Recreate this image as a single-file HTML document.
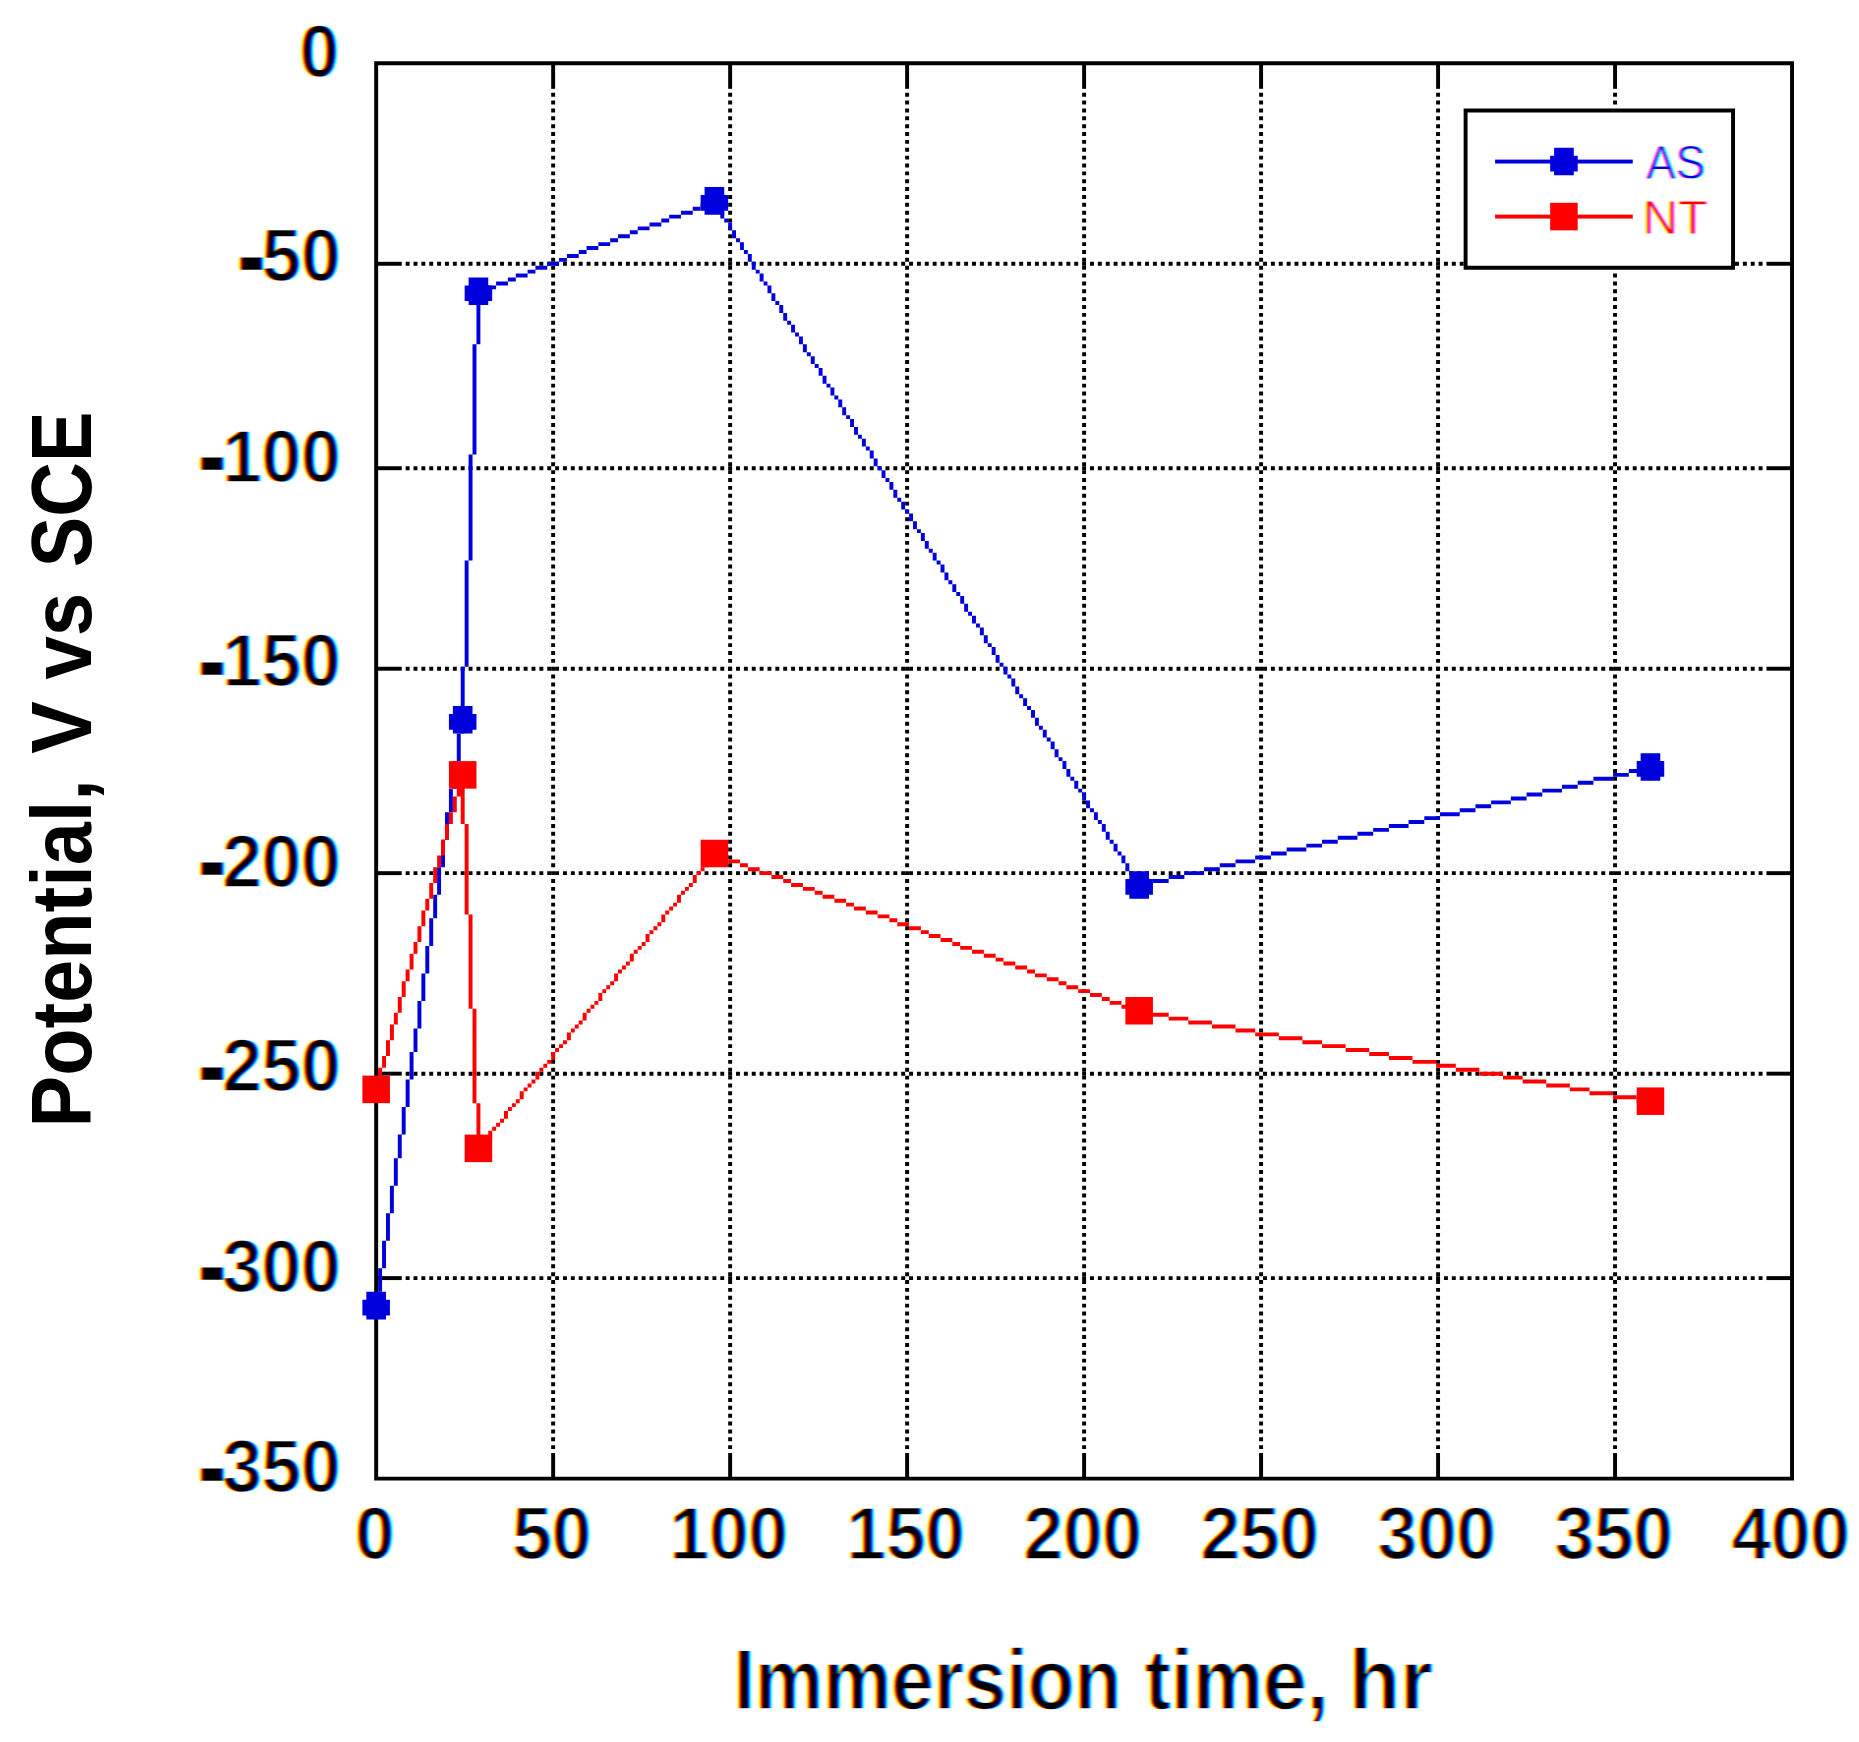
<!DOCTYPE html>
<html lang="en">
<head>
<meta charset="utf-8">
<title>Potential vs immersion time</title>
<style>
html,body{margin:0;padding:0;background:#fff;}
body{width:1859px;height:1742px;overflow:hidden;}
svg{display:block;}
text{font-family:"Liberation Sans",Arial,Helvetica,sans-serif;}
.t{font-weight:bold;font-size:70.78px;fill:#000;stroke:#fff;stroke-width:1.4px;}
.a{font-weight:bold;font-size:85.5px;fill:#000;}
.l{font-size:47.18px;stroke:#fff;stroke-width:0.8px;}
#xt{stroke:#fff;stroke-width:1.6px;}
.h{stroke:#000;stroke-width:3.4px;}
</style>
</head>
<body>
<svg width="1859" height="1742" viewBox="0 0 1859 1742">
<defs>
<filter id="ct" x="-5%" y="-10%" width="110%" height="120%" color-interpolation-filters="sRGB">
<feColorMatrix in="SourceGraphic" type="matrix" values="1 0 0 0 0  0 0 0 0 1  0 0 0 0 1  0 0 0 1 0" result="r0"/>
<feOffset in="r0" dx="1.6" dy="0" result="r1"/>
<feGaussianBlur in="r1" stdDeviation="0.8 0" result="r2"/>
<feColorMatrix in="SourceGraphic" type="matrix" values="0 0 0 0 1  0 1 0 0 0  0 0 0 0 1  0 0 0 1 0" result="g0"/>
<feGaussianBlur in="g0" stdDeviation="0.8 0" result="g2"/>
<feColorMatrix in="SourceGraphic" type="matrix" values="0 0 0 0 1  0 0 0 0 1  0 0 1 0 0  0 0 0 1 0" result="b0"/>
<feOffset in="b0" dx="-1.6" dy="0" result="b1"/>
<feGaussianBlur in="b1" stdDeviation="0.8 0" result="b2"/>
<feBlend in="r2" in2="g2" mode="multiply" result="rg"/>
<feBlend in="rg" in2="b2" mode="multiply"/>
</filter>
</defs>
<rect x="0" y="0" width="1859" height="1742" fill="#fff"/>
<g stroke="#000" stroke-width="3.93" fill="none"><line x1="553.15" y1="92.75" x2="553.15" y2="1449.12" stroke-dasharray="3.9315 3.9315"/><line x1="730.14" y1="92.75" x2="730.14" y2="1449.12" stroke-dasharray="3.9315 3.9315"/><line x1="907.12" y1="92.75" x2="907.12" y2="1449.12" stroke-dasharray="3.9315 3.9315"/><line x1="1084.11" y1="92.75" x2="1084.11" y2="1449.12" stroke-dasharray="3.9315 3.9315"/><line x1="1261.09" y1="92.75" x2="1261.09" y2="1449.12" stroke-dasharray="3.9315 3.9315"/><line x1="1438.08" y1="92.75" x2="1438.08" y2="1449.12" stroke-dasharray="3.9315 3.9315"/><line x1="1615.06" y1="92.75" x2="1615.06" y2="104.55" stroke-dasharray="3.9315 3.9315"/><line x1="1615.06" y1="273.6" x2="1615.06" y2="1449.12" stroke-dasharray="3.9315 3.9315"/><line x1="405.66" y1="263.77" x2="1463.64" y2="263.77" stroke-dasharray="3.9330 3.9330"/><line x1="1735.02" y1="263.77" x2="1762.55" y2="263.77" stroke-dasharray="3.9330 3.9330"/><line x1="405.66" y1="468.21" x2="1762.55" y2="468.21" stroke-dasharray="3.9330 3.9330"/><line x1="405.66" y1="668.72" x2="1762.55" y2="668.72" stroke-dasharray="3.9330 3.9330"/><line x1="405.66" y1="873.15" x2="1762.55" y2="873.15" stroke-dasharray="3.9330 3.9330"/><line x1="405.66" y1="1073.66" x2="1762.55" y2="1073.66" stroke-dasharray="3.9330 3.9330"/><line x1="405.66" y1="1278.1" x2="1762.55" y2="1278.1" stroke-dasharray="3.9330 3.9330"/></g>
<g fill="#000"><path fill-rule="evenodd" d="M374.2 61.3H1794.01V1480.57H374.2ZM378.13 65.23H1790.08V1476.64H378.13Z"/><rect x="551.18" y="63.23" width="3.93" height="25.59"/><rect x="551.18" y="1453.05" width="3.93" height="25.59"/><rect x="728.17" y="63.23" width="3.93" height="25.59"/><rect x="728.17" y="1453.05" width="3.93" height="25.59"/><rect x="905.15" y="63.23" width="3.93" height="25.59"/><rect x="905.15" y="1453.05" width="3.93" height="25.59"/><rect x="1082.14" y="63.23" width="3.93" height="25.59"/><rect x="1082.14" y="1453.05" width="3.93" height="25.59"/><rect x="1259.12" y="63.23" width="3.93" height="25.59"/><rect x="1259.12" y="1453.05" width="3.93" height="25.59"/><rect x="1436.11" y="63.23" width="3.93" height="25.59"/><rect x="1436.11" y="1453.05" width="3.93" height="25.59"/><rect x="1613.1" y="63.23" width="3.93" height="25.59"/><rect x="1613.1" y="1453.05" width="3.93" height="25.59"/><rect x="376.13" y="261.81" width="25.6" height="3.93"/><rect x="1766.48" y="261.81" width="25.6" height="3.93"/><rect x="376.13" y="466.24" width="25.6" height="3.93"/><rect x="1766.48" y="466.24" width="25.6" height="3.93"/><rect x="376.13" y="666.75" width="25.6" height="3.93"/><rect x="1766.48" y="666.75" width="25.6" height="3.93"/><rect x="376.13" y="871.19" width="25.6" height="3.93"/><rect x="1766.48" y="871.19" width="25.6" height="3.93"/><rect x="376.13" y="1071.7" width="25.6" height="3.93"/><rect x="1766.48" y="1071.7" width="25.6" height="3.93"/><rect x="376.13" y="1276.13" width="25.6" height="3.93"/><rect x="1766.48" y="1276.13" width="25.6" height="3.93"/></g>
<g fill="#0000dc"><path d="M712.44 198.9H716.37V206.77H712.44ZM700.64 202.83H712.44V206.77H700.64ZM692.77 206.77H700.64V210.7H692.77ZM716.37 206.77H720.3V210.7H716.37ZM680.97 210.7H692.77V214.63H680.97ZM720.3 210.7H724.24V218.56H720.3ZM669.17 214.63H680.97V218.56H669.17ZM661.31 218.56H669.17V222.49H661.31ZM724.24 218.56H728.17V222.49H724.24ZM649.51 222.49H661.31V226.42H649.51ZM728.17 222.49H732.1V230.35H728.17ZM637.71 226.42H649.51V230.35H637.71ZM629.85 230.35H637.71V234.29H629.85ZM732.1 230.35H736.04V238.22H732.1ZM618.05 234.29H629.85V238.22H618.05ZM610.18 238.22H618.05V242.15H610.18ZM736.04 238.22H739.97V242.15H736.04ZM598.38 242.15H610.18V246.08H598.38ZM739.97 242.15H743.9V250.01H739.97ZM586.58 246.08H598.38V250.01H586.58ZM578.72 250.01H586.58V253.94H578.72ZM743.9 250.01H747.84V253.94H743.9ZM566.92 253.94H578.72V257.88H566.92ZM747.84 253.94H751.77V261.81H747.84ZM559.05 257.88H566.92V261.81H559.05ZM547.25 261.81H559.05V265.74H547.25ZM751.77 261.81H755.7V269.67H751.77ZM535.45 265.74H547.25V269.67H535.45ZM527.59 269.67H535.45V273.6H527.59ZM755.7 269.67H759.63V273.6H755.7ZM515.79 273.6H527.59V277.53H515.79ZM759.63 273.6H763.57V281.46H759.63ZM507.92 277.53H515.79V281.46H507.92ZM496.12 281.46H507.92V285.4H496.12ZM763.57 281.46H767.5V285.4H763.57ZM484.32 285.4H496.12V289.33H484.32ZM767.5 285.4H771.43V293.26H767.5ZM476.46 289.33H484.32V293.26H476.46ZM476.46 293.26H480.39V344.37H476.46ZM771.43 293.26H775.37V301.12H771.43ZM775.37 301.12H779.3V305.05H775.37ZM779.3 305.05H783.23V312.92H779.3ZM783.23 312.92H787.16V320.78H783.23ZM787.16 320.78H791.1V324.71H787.16ZM791.1 324.71H795.03V332.57H791.1ZM795.03 332.57H798.96V336.51H795.03ZM798.96 336.51H802.9V344.37H798.96ZM472.52 344.37H476.46V454.45H472.52ZM802.9 344.37H806.83V352.23H802.9ZM806.83 352.23H810.76V356.16H806.83ZM810.76 356.16H814.7V364.03H810.76ZM814.7 364.03H818.63V367.96H814.7ZM818.63 367.96H822.56V375.82H818.63ZM822.56 375.82H826.49V383.68H822.56ZM826.49 383.68H830.43V387.61H826.49ZM830.43 387.61H834.36V395.48H830.43ZM834.36 395.48H838.29V399.41H834.36ZM838.29 399.41H842.23V407.27H838.29ZM842.23 407.27H846.16V415.14H842.23ZM846.16 415.14H850.09V419.07H846.16ZM850.09 419.07H854.03V426.93H850.09ZM854.03 426.93H857.96V434.79H854.03ZM857.96 434.79H861.89V438.72H857.96ZM861.89 438.72H865.83V446.59H861.89ZM865.83 446.59H869.76V450.52H865.83ZM869.76 450.52H873.69V458.38H869.76ZM468.59 454.45H472.52V560.6H468.59ZM873.69 458.38H877.62V466.24H873.69ZM877.62 466.24H881.56V470.18H877.62ZM881.56 470.18H885.49V478.04H881.56ZM885.49 478.04H889.42V481.97H885.49ZM889.42 481.97H893.36V489.83H889.42ZM893.36 489.83H897.29V497.7H893.36ZM897.29 497.7H901.22V501.63H897.29ZM901.22 501.63H905.15V509.49H901.22ZM905.15 509.49H909.09V513.42H905.15ZM909.09 513.42H913.02V521.29H909.09ZM913.02 521.29H916.95V529.15H913.02ZM916.95 529.15H920.89V533.08H916.95ZM920.89 533.08H924.82V540.94H920.89ZM924.82 540.94H928.75V548.81H924.82ZM928.75 548.81H932.69V552.74H928.75ZM932.69 552.74H936.62V560.6H932.69ZM464.66 560.6H468.59V666.75H464.66ZM936.62 560.6H940.55V564.53H936.62ZM940.55 564.53H944.48V572.39H940.55ZM944.48 572.39H948.42V580.26H944.48ZM948.42 580.26H952.35V584.19H948.42ZM952.35 584.19H956.28V592.05H952.35ZM956.28 592.05H960.22V595.98H956.28ZM960.22 595.98H964.15V603.85H960.22ZM964.15 603.85H968.08V611.71H964.15ZM968.08 611.71H972.02V615.64H968.08ZM972.02 615.64H975.95V623.5H972.02ZM975.95 623.5H979.88V627.44H975.95ZM979.88 627.44H983.82V635.3H979.88ZM983.82 635.3H987.75V643.16H983.82ZM987.75 643.16H991.68V647.09H987.75ZM991.68 647.09H995.61V654.96H991.68ZM995.61 654.96H999.55V662.82H995.61ZM999.55 662.82H1003.48V666.75H999.55ZM460.73 666.75H464.66V733.59H460.73ZM1003.48 666.75H1007.41V674.61H1003.48ZM1007.41 674.61H1011.35V678.55H1007.41ZM1011.35 678.55H1015.28V686.41H1011.35ZM1015.28 686.41H1019.21V694.27H1015.28ZM1019.21 694.27H1023.14V698.2H1019.21ZM1023.14 698.2H1027.08V706.07H1023.14ZM1027.08 706.07H1031.01V710H1027.08ZM1031.01 710H1034.94V717.86H1031.01ZM1034.94 717.86H1038.88V725.72H1034.94ZM1038.88 725.72H1042.81V729.65H1038.88ZM1042.81 729.65H1046.74V737.52H1042.81ZM456.79 733.59H460.73V761.11H456.79ZM1046.74 737.52H1050.68V741.45H1046.74ZM1050.68 741.45H1054.61V749.31H1050.68ZM1054.61 749.31H1058.54V757.18H1054.61ZM1058.54 757.18H1062.47V761.11H1058.54ZM452.86 761.11H456.79V788.63H452.86ZM1062.47 761.11H1066.41V768.97H1062.47ZM1644.56 765.04H1652.42V768.97H1644.56ZM1066.41 768.97H1070.34V776.83H1066.41ZM1628.83 768.97H1644.56V772.9H1628.83ZM1613.1 772.9H1628.83V776.83H1613.1ZM1070.34 776.83H1074.27V780.76H1070.34ZM1593.43 776.83H1613.1V780.76H1593.43ZM1074.27 780.76H1078.21V788.63H1074.27ZM1577.7 780.76H1593.43V784.7H1577.7ZM1561.97 784.7H1577.7V788.63H1561.97ZM448.93 788.63H452.86V812.22H448.93ZM1078.21 788.63H1082.14V792.56H1078.21ZM1542.3 788.63H1561.97V792.56H1542.3ZM1082.14 792.56H1086.07V800.42H1082.14ZM1526.57 792.56H1542.3V796.49H1526.57ZM1510.84 796.49H1526.57V800.42H1510.84ZM1086.07 800.42H1090.01V808.28H1086.07ZM1491.17 800.42H1510.84V804.35H1491.17ZM1475.44 804.35H1491.17V808.28H1475.44ZM1090.01 808.28H1093.94V812.22H1090.01ZM1459.71 808.28H1475.44V812.22H1459.71ZM444.99 812.22H448.93V839.74H444.99ZM1093.94 812.22H1097.87V820.08H1093.94ZM1440.04 812.22H1459.71V816.15H1440.04ZM1424.31 816.15H1440.04V820.08H1424.31ZM1097.87 820.08H1101.81V824.01H1097.87ZM1408.58 820.08H1424.31V824.01H1408.58ZM1101.81 824.01H1105.74V831.87H1101.81ZM1388.91 824.01H1408.58V827.94H1388.91ZM1373.18 827.94H1388.91V831.87H1373.18ZM1105.74 831.87H1109.67V839.74H1105.74ZM1357.45 831.87H1373.18V835.81H1357.45ZM1337.78 835.81H1357.45V839.74H1337.78ZM441.06 839.74H444.99V867.26H441.06ZM1109.67 839.74H1113.6V843.67H1109.67ZM1322.05 839.74H1337.78V843.67H1322.05ZM1113.6 843.67H1117.54V851.53H1113.6ZM1306.32 843.67H1322.05V847.6H1306.32ZM1286.66 847.6H1306.32V851.53H1286.66ZM1117.54 851.53H1121.47V855.46H1117.54ZM1270.92 851.53H1286.66V855.46H1270.92ZM1121.47 855.46H1125.4V863.33H1121.47ZM1255.19 855.46H1270.92V859.39H1255.19ZM1235.53 859.39H1255.19V863.33H1235.53ZM1125.4 863.33H1129.34V871.19H1125.4ZM1219.79 863.33H1235.53V867.26H1219.79ZM437.13 867.26H441.06V894.78H437.13ZM1204.06 867.26H1219.79V871.19H1204.06ZM1129.34 871.19H1133.27V875.12H1129.34ZM1184.4 871.19H1204.06V875.12H1184.4ZM1133.27 875.12H1137.2V882.98H1133.27ZM1168.67 875.12H1184.4V879.05H1168.67ZM1152.93 879.05H1168.67V882.98H1152.93ZM1137.2 882.98H1152.93V886.91H1137.2ZM433.19 894.78H437.13V918.37H433.19ZM429.26 918.37H433.19V945.89H429.26ZM425.33 945.89H429.26V973.41H425.33ZM421.4 973.41H425.33V1000.93H421.4ZM417.46 1000.93H421.4V1028.45H417.46ZM413.53 1028.45H417.46V1052.04H413.53ZM409.6 1052.04H413.53V1079.56H409.6ZM405.66 1079.56H409.6V1107.08H405.66ZM401.73 1107.08H405.66V1134.6H401.73ZM397.8 1134.6H401.73V1158.19H397.8ZM393.87 1158.19H397.8V1185.71H393.87ZM389.93 1185.71H393.87V1213.23H389.93ZM386 1213.23H389.93V1240.75H386ZM382.07 1240.75H386V1268.27H382.07ZM378.13 1268.27H382.07V1291.86H378.13ZM374.2 1291.86H378.13V1307.59H374.2Z"/><path d="M366.33 1291.86L386 1291.86L386 1299.72L389.93 1299.72L389.93 1315.45L386 1315.45L386 1319.38L366.33 1319.38L366.33 1315.45L362.4 1315.45L362.4 1299.72L366.33 1299.72Z"/><path d="M452.86 706.07L472.52 706.07L472.52 713.93L476.46 713.93L476.46 729.65L472.52 729.65L472.52 733.59L452.86 733.59L452.86 729.65L448.93 729.65L448.93 713.93L452.86 713.93Z"/><path d="M468.59 277.53L488.26 277.53L488.26 285.4L492.19 285.4L492.19 301.12L488.26 301.12L488.26 305.05L468.59 305.05L468.59 301.12L464.66 301.12L464.66 285.4L468.59 285.4Z"/><path d="M704.57 187.11L724.24 187.11L724.24 194.97L728.17 194.97L728.17 210.7L724.24 210.7L724.24 214.63L704.57 214.63L704.57 210.7L700.64 210.7L700.64 194.97L704.57 194.97Z"/><path d="M1129.34 871.19L1149 871.19L1149 879.05L1152.93 879.05L1152.93 894.78L1149 894.78L1149 898.71L1129.34 898.71L1129.34 894.78L1125.4 894.78L1125.4 879.05L1129.34 879.05Z"/><path d="M1640.63 753.24L1660.29 753.24L1660.29 761.11L1664.22 761.11L1664.22 776.83L1660.29 776.83L1660.29 780.76L1640.63 780.76L1640.63 776.83L1636.69 776.83L1636.69 761.11L1640.63 761.11Z"/></g>
<g fill="#ff0000"><path d="M460.73 772.9H464.66V824.01H460.73ZM456.79 784.7H460.73V796.49H456.79ZM452.86 796.49H456.79V812.22H452.86ZM448.93 812.22H452.86V824.01H448.93ZM444.99 824.01H448.93V839.74H444.99ZM464.66 824.01H468.59V914.44H464.66ZM441.06 839.74H444.99V855.46H441.06ZM712.44 851.53H716.37V855.46H712.44ZM437.13 855.46H441.06V867.26H437.13ZM708.5 855.46H712.44V863.33H708.5ZM716.37 855.46H728.17V859.39H716.37ZM728.17 859.39H739.97V863.33H728.17ZM704.57 863.33H708.5V867.26H704.57ZM739.97 863.33H747.84V867.26H739.97ZM433.19 867.26H437.13V882.98H433.19ZM700.64 867.26H704.57V871.19H700.64ZM747.84 867.26H759.63V871.19H747.84ZM696.71 871.19H700.64V875.12H696.71ZM759.63 871.19H771.43V875.12H759.63ZM692.77 875.12H696.71V882.98H692.77ZM771.43 875.12H783.23V879.05H771.43ZM783.23 879.05H791.1V882.98H783.23ZM429.26 882.98H433.19V898.71H429.26ZM688.84 882.98H692.77V886.91H688.84ZM791.1 882.98H802.9V886.91H791.1ZM684.91 886.91H688.84V890.85H684.91ZM802.9 886.91H814.7V890.85H802.9ZM680.97 890.85H684.91V894.78H680.97ZM814.7 890.85H822.56V894.78H814.7ZM677.04 894.78H680.97V902.64H677.04ZM822.56 894.78H834.36V898.71H822.56ZM425.33 898.71H429.26V910.5H425.33ZM834.36 898.71H846.16V902.64H834.36ZM673.11 902.64H677.04V906.57H673.11ZM846.16 902.64H854.03V906.57H846.16ZM669.17 906.57H673.11V910.5H669.17ZM854.03 906.57H865.83V910.5H854.03ZM421.4 910.5H425.33V926.23H421.4ZM665.24 910.5H669.17V914.44H665.24ZM865.83 910.5H877.62V914.44H865.83ZM468.59 914.44H472.52V1008.79H468.59ZM661.31 914.44H665.24V922.3H661.31ZM877.62 914.44H889.42V918.37H877.62ZM889.42 918.37H897.29V922.3H889.42ZM657.38 922.3H661.31V926.23H657.38ZM897.29 922.3H909.09V926.23H897.29ZM417.46 926.23H421.4V941.96H417.46ZM653.44 926.23H657.38V930.16H653.44ZM909.09 926.23H920.89V930.16H909.09ZM649.51 930.16H653.44V934.09H649.51ZM920.89 930.16H928.75V934.09H920.89ZM645.58 934.09H649.51V941.96H645.58ZM928.75 934.09H940.55V938.02H928.75ZM940.55 938.02H952.35V941.96H940.55ZM413.53 941.96H417.46V953.75H413.53ZM641.64 941.96H645.58V945.89H641.64ZM952.35 941.96H960.22V945.89H952.35ZM637.71 945.89H641.64V949.82H637.71ZM960.22 945.89H972.02V949.82H960.22ZM633.78 949.82H637.71V953.75H633.78ZM972.02 949.82H983.82V953.75H972.02ZM409.6 953.75H413.53V969.48H409.6ZM629.85 953.75H633.78V961.61H629.85ZM983.82 953.75H995.61V957.68H983.82ZM995.61 957.68H1003.48V961.61H995.61ZM625.91 961.61H629.85V965.54H625.91ZM1003.48 961.61H1015.28V965.54H1003.48ZM621.98 965.54H625.91V969.48H621.98ZM1015.28 965.54H1027.08V969.48H1015.28ZM405.66 969.48H409.6V981.27H405.66ZM618.05 969.48H621.98V973.41H618.05ZM1027.08 969.48H1034.94V973.41H1027.08ZM614.11 973.41H618.05V981.27H614.11ZM1034.94 973.41H1046.74V977.34H1034.94ZM1046.74 977.34H1058.54V981.27H1046.74ZM401.73 981.27H405.66V997H401.73ZM610.18 981.27H614.11V985.2H610.18ZM1058.54 981.27H1066.41V985.2H1058.54ZM606.25 985.2H610.18V989.13H606.25ZM1066.41 985.2H1078.21V989.13H1066.41ZM602.31 989.13H606.25V993.07H602.31ZM1078.21 989.13H1090.01V993.07H1078.21ZM598.38 993.07H602.31V1000.93H598.38ZM1090.01 993.07H1101.81V997H1090.01ZM397.8 997H401.73V1012.72H397.8ZM1101.81 997H1109.67V1000.93H1101.81ZM594.45 1000.93H598.38V1004.86H594.45ZM1109.67 1000.93H1121.47V1004.86H1109.67ZM590.51 1004.86H594.45V1008.79H590.51ZM1121.47 1004.86H1133.27V1008.79H1121.47ZM472.52 1008.79H476.46V1103.15H472.52ZM586.58 1008.79H590.51V1012.72H586.58ZM1133.27 1008.79H1145.07V1012.72H1133.27ZM393.87 1012.72H397.8V1024.52H393.87ZM582.65 1012.72H586.58V1020.59H582.65ZM1145.07 1012.72H1168.67V1016.65H1145.07ZM1168.67 1016.65H1188.33V1020.59H1168.67ZM578.72 1020.59H582.65V1024.52H578.72ZM1188.33 1020.59H1211.93V1024.52H1188.33ZM389.93 1024.52H393.87V1040.24H389.93ZM574.78 1024.52H578.72V1028.45H574.78ZM1211.93 1024.52H1235.53V1028.45H1211.93ZM570.85 1028.45H574.78V1032.38H570.85ZM1235.53 1028.45H1255.19V1032.38H1235.53ZM566.92 1032.38H570.85V1040.24H566.92ZM1255.19 1032.38H1278.79V1036.31H1255.19ZM1278.79 1036.31H1302.39V1040.24H1278.79ZM386 1040.24H389.93V1055.97H386ZM562.98 1040.24H566.92V1044.17H562.98ZM1302.39 1040.24H1322.05V1044.17H1302.39ZM559.05 1044.17H562.98V1048.11H559.05ZM1322.05 1044.17H1345.65V1048.11H1322.05ZM555.12 1048.11H559.05V1052.04H555.12ZM1345.65 1048.11H1369.25V1052.04H1345.65ZM551.18 1052.04H555.12V1059.9H551.18ZM1369.25 1052.04H1388.91V1055.97H1369.25ZM382.07 1055.97H386V1067.76H382.07ZM1388.91 1055.97H1412.51V1059.9H1388.91ZM547.25 1059.9H551.18V1063.83H547.25ZM1412.51 1059.9H1436.11V1063.83H1412.51ZM543.32 1063.83H547.25V1067.76H543.32ZM1436.11 1063.83H1455.78V1067.76H1436.11ZM378.13 1067.76H382.07V1083.49H378.13ZM539.39 1067.76H543.32V1071.7H539.39ZM1455.78 1067.76H1479.37V1071.7H1455.78ZM535.45 1071.7H539.39V1079.56H535.45ZM1479.37 1071.7H1502.97V1075.63H1479.37ZM1502.97 1075.63H1522.64V1079.56H1502.97ZM531.52 1079.56H535.45V1083.49H531.52ZM1522.64 1079.56H1546.23V1083.49H1522.64ZM374.2 1083.49H378.13V1091.35H374.2ZM527.59 1083.49H531.52V1087.42H527.59ZM1546.23 1083.49H1569.83V1087.42H1546.23ZM523.65 1087.42H527.59V1091.35H523.65ZM1569.83 1087.42H1589.5V1091.35H1569.83ZM519.72 1091.35H523.65V1099.22H519.72ZM1589.5 1091.35H1613.1V1095.28H1589.5ZM1613.1 1095.28H1636.69V1099.22H1613.1ZM515.79 1099.22H519.72V1103.15H515.79ZM1636.69 1099.22H1652.42V1103.15H1636.69ZM476.46 1103.15H480.39V1150.33H476.46ZM511.86 1103.15H515.79V1107.08H511.86ZM507.92 1107.08H511.86V1111.01H507.92ZM503.99 1111.01H507.92V1118.87H503.99ZM500.06 1118.87H503.99V1122.81H500.06ZM496.12 1122.81H500.06V1126.74H496.12ZM492.19 1126.74H496.12V1130.67H492.19ZM488.26 1130.67H492.19V1138.53H488.26ZM484.32 1138.53H488.26V1142.46H484.32ZM480.39 1142.46H484.32V1146.39H480.39Z"/><rect x="362.4" y="1075.63" width="27.53" height="27.52"/><rect x="448.93" y="761.11" width="27.53" height="27.52"/><rect x="464.66" y="1134.6" width="27.53" height="27.52"/><rect x="700.64" y="839.74" width="27.53" height="27.52"/><rect x="1125.4" y="997" width="27.53" height="27.52"/><rect x="1636.69" y="1087.42" width="27.53" height="27.52"/></g>
<rect x="1465.14" y="109.98" width="268.38" height="158.19" fill="#fff"/><g fill="#000"><path fill-rule="evenodd" d="M1463.64 108.48H1735.02V269.67H1463.64ZM1467.57 112.41H1731.09V265.74H1467.57Z"/></g><g fill="#0000dc"><rect x="1495.11" y="159.59" width="137.65" height="3.93"/><path d="M1554.1 147.79L1573.77 147.79L1573.77 155.66L1577.7 155.66L1577.7 171.38L1573.77 171.38L1573.77 175.31L1554.1 175.31L1554.1 171.38L1550.17 171.38L1550.17 155.66L1554.1 155.66Z"/></g><g fill="#ff0000"><rect x="1495.11" y="214.63" width="137.65" height="3.93"/><rect x="1550.17" y="202.83" width="27.53" height="27.52"/></g>
<text class="t" filter="url(#ct)" transform="translate(338.8 76.93) scale(1 1.035)" text-anchor="end">0</text><text class="t" filter="url(#ct)" transform="translate(338.8 281.36) scale(1 1.035)" text-anchor="end"><tspan class="h" dx="1.5" dy="1.3">-</tspan><tspan dx="-1.5" dy="-1.3">50</tspan></text><text class="t" filter="url(#ct)" transform="translate(338.8 481.87) scale(1 1.035)" text-anchor="end"><tspan class="h" dx="1.5" dy="1.3">-</tspan><tspan dx="-1.5" dy="-1.3">100</tspan></text><text class="t" filter="url(#ct)" transform="translate(338.8 686.31) scale(1 1.035)" text-anchor="end"><tspan class="h" dx="1.5" dy="1.3">-</tspan><tspan dx="-1.5" dy="-1.3">150</tspan></text><text class="t" filter="url(#ct)" transform="translate(338.8 886.82) scale(1 1.035)" text-anchor="end"><tspan class="h" dx="1.5" dy="1.3">-</tspan><tspan dx="-1.5" dy="-1.3">200</tspan></text><text class="t" filter="url(#ct)" transform="translate(338.8 1091.25) scale(1 1.035)" text-anchor="end"><tspan class="h" dx="1.5" dy="1.3">-</tspan><tspan dx="-1.5" dy="-1.3">250</tspan></text><text class="t" filter="url(#ct)" transform="translate(338.8 1291.76) scale(1 1.035)" text-anchor="end"><tspan class="h" dx="1.5" dy="1.3">-</tspan><tspan dx="-1.5" dy="-1.3">300</tspan></text><text class="t" filter="url(#ct)" transform="translate(338.8 1492.27) scale(1 1.035)" text-anchor="end"><tspan class="h" dx="1.5" dy="1.3">-</tspan><tspan dx="-1.5" dy="-1.3">350</tspan></text><text class="t" filter="url(#ct)" transform="translate(374.67 1558.7) scale(1 1.035)" text-anchor="middle">0</text><text class="t" filter="url(#ct)" transform="translate(551.65 1558.7) scale(1 1.035)" text-anchor="middle">50</text><text class="t" filter="url(#ct)" transform="translate(728.64 1558.7) scale(1 1.035)" text-anchor="middle">100</text><text class="t" filter="url(#ct)" transform="translate(905.62 1558.7) scale(1 1.035)" text-anchor="middle">150</text><text class="t" filter="url(#ct)" transform="translate(1082.61 1558.7) scale(1 1.035)" text-anchor="middle">200</text><text class="t" filter="url(#ct)" transform="translate(1259.59 1558.7) scale(1 1.035)" text-anchor="middle">250</text><text class="t" filter="url(#ct)" transform="translate(1436.58 1558.7) scale(1 1.035)" text-anchor="middle">300</text><text class="t" filter="url(#ct)" transform="translate(1613.56 1558.7) scale(1 1.035)" text-anchor="middle">350</text><text class="t" filter="url(#ct)" transform="translate(1790.55 1558.7) scale(1 1.035)" text-anchor="middle">400</text><text class="a" id="xt" filter="url(#ct)" y="1709.3"><tspan x="733.57" textLength="387.53" lengthAdjust="spacingAndGlyphs">Immersion</tspan> <tspan x="1144.6" textLength="184.02" lengthAdjust="spacingAndGlyphs">time,</tspan> <tspan x="1348.73" textLength="83.87" lengthAdjust="spacingAndGlyphs">hr</tspan></text><text class="a" id="yt" transform="translate(91.1 1122.8) rotate(-90)" y="0"><tspan x="-4.64" textLength="348.12" lengthAdjust="spacingAndGlyphs">Potential,</tspan> <tspan x="369.02" textLength="52.59" lengthAdjust="spacingAndGlyphs">V</tspan> <tspan x="443.2" textLength="86.96" lengthAdjust="spacingAndGlyphs">vs</tspan> <tspan x="555.61" textLength="155.76" lengthAdjust="spacingAndGlyphs">SCE</tspan></text><text class="l" filter="url(#ct)" x="1645.8" y="179" fill="#0000dc" textLength="59" lengthAdjust="spacingAndGlyphs">AS</text><text class="l" filter="url(#ct)" x="1643" y="234" fill="#ff0000" textLength="65" lengthAdjust="spacingAndGlyphs">NT</text>
</svg>
</body>
</html>
